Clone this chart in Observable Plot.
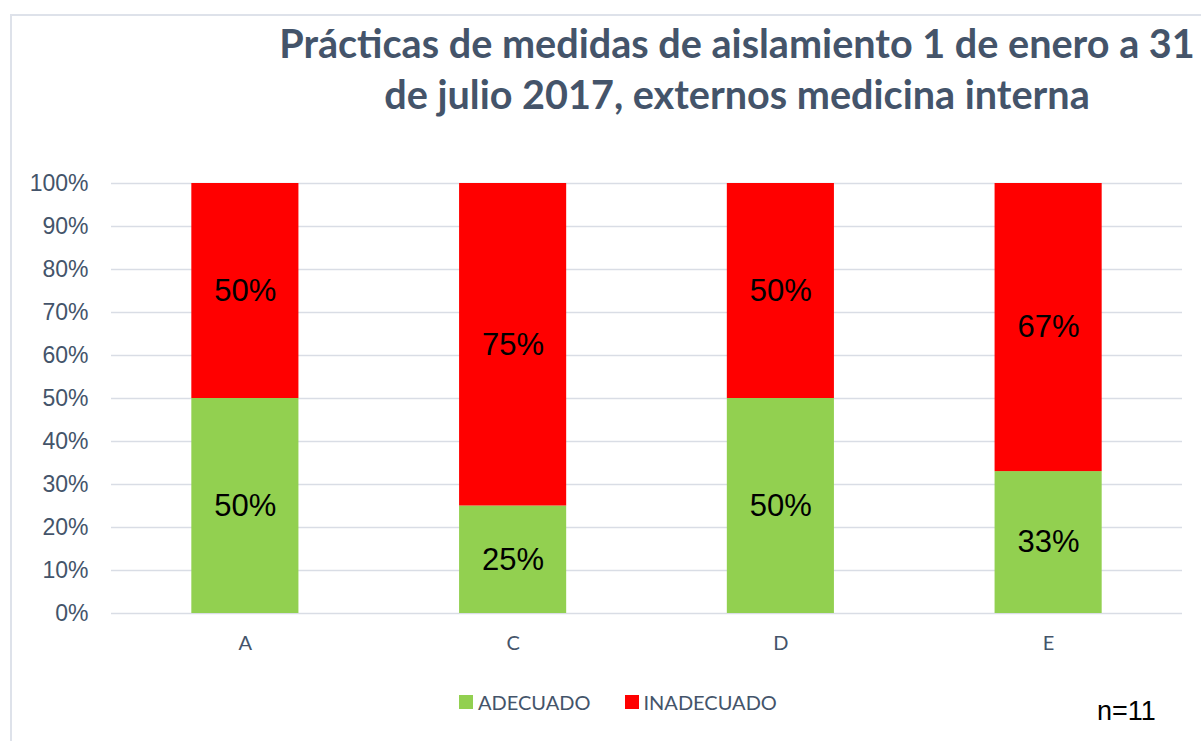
<!DOCTYPE html>
<html>
<head>
<meta charset="utf-8">
<script src="https://cdn.jsdelivr.net/npm/d3@7"></script>
<script src="https://cdn.jsdelivr.net/npm/@observablehq/plot@0.6"></script>
<style>
  html, body { margin: 0; padding: 0; background: #fff; }
  #wrap { position: relative; width: 1201px; height: 741px; overflow: hidden; background: #fff; }
  #frame { position: absolute; left: 10px; top: 14px; width: 1300px; height: 800px;
           border-left: 2px solid #DEE2EA; border-top: 2px solid #DEE2EA; box-sizing: border-box; z-index: 5; }
  #title { position: absolute; left: 237px; width: 1000px; top: 17px; text-align: center;
           font-family: Lato, sans-serif; font-weight: bold; font-size: 39.6px; line-height: 51px;
           color: #44546A; white-space: nowrap; }
  #chart { position: absolute; left: 0; top: 150px; }
  #legend { position: absolute; left: 459px; top: 690px; height: 24px; display: flex; align-items: center;
            font-family: Lato, sans-serif; font-size: 20px; color: #44546A; white-space: nowrap; }
  #legend .sw { width: 14px; height: 14px; margin-right: 5px; }
  #legend .item { display: flex; align-items: center; margin-right: 34px; }
  #note { position: absolute; left: 1097px; top: 696px; font-family: "Liberation Sans", Arial, sans-serif;
          font-size: 27px; color: #000; white-space: nowrap; }
</style>
</head>
<body>
<div id="wrap">
  <div id="title">Prácticas de medidas de aislamiento 1 de enero a 31<br>de julio 2017, externos medicina interna</div>
  <div id="chart"></div>
  <div id="legend"></div>
  <div id="note">n=11</div>
  <div id="frame"></div>
</div>
<script>
const categories = ["A", "C", "D", "E"];
const series = ["ADECUADO", "INADECUADO"];
const adecuado = [0.50, 0.25, 0.50, 0.33];
const inadecuado = [0.50, 0.75, 0.50, 0.67];
const colors = ["#92D050", "#FF0000"];
const yTicks = [0, 0.1, 0.2, 0.3, 0.4, 0.5, 0.6, 0.7, 0.8, 0.9, 1.0];

const rows = [];
categories.forEach((c, i) => {
  rows.push({cat: c, series: series[0], value: adecuado[i]});
  rows.push({cat: c, series: series[1], value: inadecuado[i]});
});

const pct = d3.format(".0%");
const textColor = "#44546A";

const chart = Plot.plot({
  width: 1201,
  height: 513,
  marginTop: 33,
  marginBottom: 50,
  marginLeft: 111,
  marginRight: 19,
  style: {background: "transparent"},
  x: {domain: categories, paddingInner: 0.6, paddingOuter: 0.3, round: false, label: null},
  y: {domain: [0, 1], label: null},
  color: {domain: series, range: colors},
  marks: [
    Plot.ruleY(yTicks, {stroke: "#D9DDE5", strokeWidth: 1.5}),
    Plot.barY(rows, {x: "cat", y: "value", fill: "series"}),
    Plot.text(rows, Plot.stackY({x: "cat", y: "value", z: "series", text: d => pct(d.value),
      fontSize: 31, fontFamily: "Liberation Sans, Arial, sans-serif", fill: "#000"})),
    Plot.axisY({ticks: yTicks, tickFormat: pct, tickSize: 0, tickPadding: 23, label: null,
      fontSize: 23, fontFamily: "Liberation Sans, Arial, sans-serif", fill: textColor}),
    Plot.axisX({tickSize: 0, tickPadding: 22, label: null,
      fontSize: 20, fontFamily: "Lato, sans-serif", fill: textColor})
  ]
});
document.getElementById("chart").appendChild(chart);

const legend = document.getElementById("legend");
series.forEach((s, i) => {
  const item = document.createElement("div");
  item.className = "item";
  if (i === series.length - 1) item.style.marginRight = "0";
  const sw = document.createElement("div");
  sw.className = "sw";
  sw.style.background = colors[i];
  const lab = document.createElement("span");
  lab.textContent = s;
  item.appendChild(sw);
  item.appendChild(lab);
  legend.appendChild(item);
});
</script>
</body>
</html>
